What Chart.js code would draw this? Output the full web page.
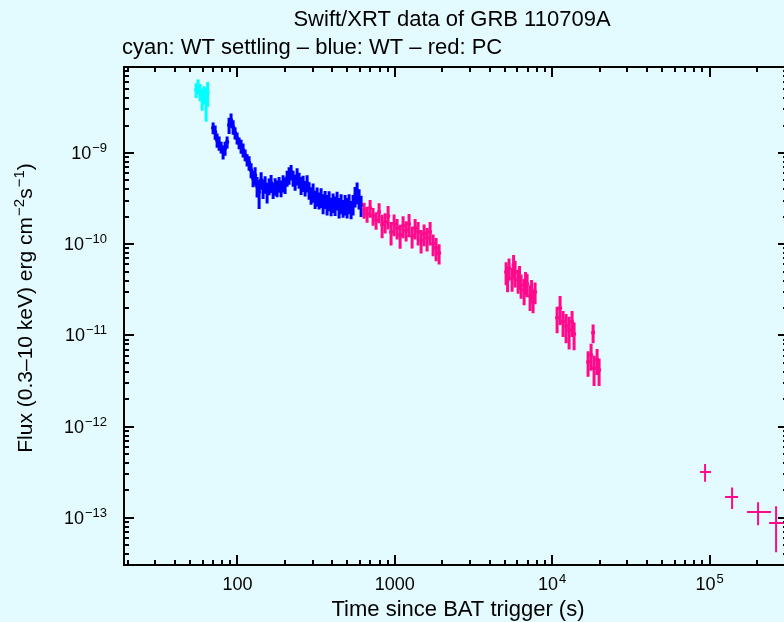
<!DOCTYPE html>
<html>
<head>
<meta charset="utf-8">
<script src="https://cdn.jsdelivr.net/npm/chart.js@4.4.1/dist/chart.umd.min.js"></script>
<style>
  html, body { margin: 0; padding: 0; overflow: hidden; background: #e3fbfe; }
  canvas { display: block; }
</style>
</head>
<body>
<canvas id="lcChart" width="792" height="622"></canvas>
<script>
// cyan: WT settling mode
const settlingTime = [54.6, 56.2, 57.8, 59.6, 61.3, 63.2, 64.6];
const settlingFlux = [4.9e-9, 5.4e-9, 4.7e-9, 4.0e-9, 4.4e-9, 3.7e-9, 4.6e-9];
const settlingErr  = [0.9e-9, 1.0e-9, 1.0e-9, 1.1e-9, 1.0e-9, 1.5e-9, 1.4e-9];

// blue: WT mode
const wtTime = [70.0, 72.1, 74.2, 76.4, 78.7, 81.0, 83.4, 85.9, 88.4, 91.0, 93.8, 96.5, 99.4, 102.4, 105.4,
  108.5, 111.8, 115.1, 118.5, 122.0, 125.6, 129.4, 133.2, 137.2, 141.3, 145.4, 149.8, 154.2, 158.8, 163.5,
  168.4, 173.4, 178.5, 183.8, 189.2, 194.9, 200.7, 206.7, 212.8, 219.1, 225.6, 232.3, 239.2, 246.3, 253.6,
  261.2, 268.9, 276.9, 285.1, 293.6, 302.3, 311.3, 320.5, 330.0, 339.8, 349.9, 360.3, 371.0, 382.0, 393.3,
  405.0, 417.0, 429.4, 442.1, 455.3, 468.8, 482.7, 497.0, 511.8, 527.0, 542.6, 558.7, 575.3, 592.4, 610.0];
const wtFlux = [1.88e-9, 1.70e-9, 1.39e-9, 1.29e-9, 1.16e-9, 1.03e-9, 1.13e-9, 1.32e-9, 2.03e-9, 2.30e-9,
  1.93e-9, 1.66e-9, 1.46e-9, 1.29e-9, 1.19e-9, 1.08e-9, 9.5e-10, 8.4e-10, 7.8e-10, 6.5e-10,
  5.3e-10, 5.7e-10, 4.35e-10, 3.74e-10, 5.06e-10, 4.13e-10, 4.57e-10, 3.74e-10, 4.35e-10, 4.69e-10,
  3.93e-10, 4.35e-10, 4.13e-10, 4.57e-10, 4.13e-10, 4.69e-10, 4.46e-10, 5.32e-10, 5.74e-10, 6.19e-10,
  5.32e-10, 4.81e-10, 5.60e-10, 5.06e-10, 4.46e-10, 4.69e-10, 4.13e-10, 4.69e-10, 3.93e-10, 3.46e-10,
  3.74e-10, 3.13e-10, 3.38e-10, 3.05e-10, 3.30e-10, 2.83e-10, 3.13e-10, 2.76e-10, 3.05e-10, 2.63e-10,
  2.90e-10, 2.69e-10, 3.05e-10, 2.56e-10, 2.83e-10, 2.50e-10, 2.76e-10, 2.56e-10, 2.83e-10, 2.43e-10,
  2.76e-10, 3.38e-10, 3.74e-10, 3.21e-10, 2.69e-10];
const wtErr = [0.28e-9, 0.30e-9, 0.25e-9, 0.23e-9, 0.17e-9, 0.18e-9, 0.20e-9, 0.20e-9, 0.41e-9, 0.41e-9,
  0.35e-9, 0.25e-9, 0.22e-9, 0.19e-9, 0.21e-9, 0.19e-9, 1.4e-10, 1.3e-10, 1.4e-10, 1.2e-10,
  1.1e-10, 1.3e-10, 1.1e-10, 1.3e-10, 1.1e-10, 1.0e-10, 1.0e-10, 0.95e-10, 0.9e-10, 1.05e-10,
  0.8e-10, 0.95e-10, 0.85e-10, 0.9e-10, 0.85e-10, 1.0e-10, 0.9e-10, 1.05e-10, 1.25e-10, 1.2e-10,
  1.05e-10, 0.95e-10, 1.2e-10, 1.0e-10, 1.0e-10, 0.95e-10, 0.8e-10, 1.0e-10, 0.85e-10, 0.75e-10,
  0.9e-10, 0.7e-10, 0.8e-10, 0.65e-10, 0.8e-10, 0.7e-10, 0.7e-10, 0.7e-10, 0.75e-10, 0.6e-10,
  0.7e-10, 0.65e-10, 0.7e-10, 0.65e-10, 0.7e-10, 0.55e-10, 0.7e-10, 0.65e-10, 0.7e-10, 0.55e-10,
  0.7e-10, 0.85e-10, 1.0e-10, 0.8e-10, 0.7e-10];

// red: PC mode (short bins)
const pcTime = [637.6, 666, 696, 727, 760, 794, 830, 867, 906, 946, 989, 1033, 1080, 1128, 1179,
  1231, 1287, 1345, 1405, 1468, 1534, 1603, 1675, 1750, 1828, 1910,
  5092, 5204, 5319, 5559, 5682, 5808, 6069, 6201, 6341, 6626, 6770, 6923, 7233, 7393, 7556, 7783,
  10740, 11220, 11720, 12250, 12800, 13370, 13770,
  16900, 17660, 18190, 18450, 19280, 19850];
const pcFlux = [2.37e-10, 2.15e-10, 2.50e-10, 2.04e-10, 1.84e-10, 2.26e-10, 1.63e-10, 1.75e-10, 2.04e-10,
  1.36e-10, 1.67e-10, 1.51e-10, 1.26e-10, 1.59e-10, 1.43e-10, 1.67e-10, 1.23e-10, 1.51e-10, 1.36e-10,
  1.11e-10, 1.30e-10, 1.17e-10, 1.36e-10, 1.01e-10, 0.91e-10, 0.80e-10,
  4.96e-11, 4.27e-11, 5.49e-11, 4.27e-11, 5.92e-11, 4.96e-11, 4.06e-11, 4.49e-11, 3.58e-11, 3.15e-11,
  3.86e-11, 3.67e-11, 2.71e-11, 3.15e-11, 2.45e-11, 3.00e-11,
  1.56e-11, 2.0e-11, 1.41e-11, 1.27e-11, 1.15e-11, 1.41e-11, 1.04e-11,
  5.12e-12, 6.11e-12, 1.07e-11, 4.40e-12, 5.39e-12, 4.19e-12];
const pcErr = [0.47e-10, 0.43e-10, 0.55e-10, 0.45e-10, 0.40e-10, 0.56e-10, 0.47e-10, 0.44e-10, 0.59e-10,
  0.39e-10, 0.45e-10, 0.38e-10, 0.37e-10, 0.43e-10, 0.36e-10, 0.48e-10, 0.33e-10, 0.38e-10, 0.39e-10,
  0.32e-10, 0.35e-10, 0.34e-10, 0.39e-10, 0.27e-10, 0.26e-10, 0.20e-10,
  1.4e-11, 1.3e-11, 1.5e-11, 1.25e-11, 1.7e-11, 1.6e-11, 1.2e-11, 1.3e-11, 1.05e-11, 1.0e-11,
  1.1e-11, 1.05e-11, 0.85e-11, 0.9e-11, 0.7e-11, 0.8e-11,
  0.5e-11, 0.7e-11, 0.45e-11, 0.45e-11, 0.45e-11, 0.45e-11, 0.35e-11,
  1.6e-12, 2.0e-12, 2.5e-12, 1.6e-12, 1.7e-12, 1.4e-12];

// red: PC mode, late wide bins
const lateTime   = [93600, 139000, 203300, 264600];
const lateTimeLo = [6600, 13500, 30300, 25800];
const lateTimeHi = [8600, 12800, 42500, 37000];
const lateFlux   = [3.19e-13, 1.70e-13, 1.16e-13, 8.8e-14];
const lateErr    = [0.7e-13, 0.45e-13, 0.33e-13, 0.46e-13];

// axis ticks
const xTickValues = [100, 1000, 1e4, 1e5];
const xTickBase   = ['100', '1000', '10', '10'];
const xTickExp    = ['', '', '4', '5'];
const yTickValues = [1e-9, 1e-10, 1e-11, 1e-12, 1e-13];
const yTickExp    = ['\u22129', '\u221210', '\u221211', '\u221212', '\u221213'];

const FONT = '"Liberation Sans", Arial, Helvetica, sans-serif';

function toPoints(t, f, e, lo, hi) {
  return t.map((v, i) => ({ x: v, y: f[i], e: e[i], xl: lo ? lo[i] : null, xh: hi ? hi[i] : null }));
}

// width of "base^exp"
function supWidth(ctx, base, exp, size) {
  ctx.font = size + 'px ' + FONT;
  let w = ctx.measureText(base).width;
  if (exp) {
    ctx.font = Math.round(size * 0.72) + 'px ' + FONT;
    w += ctx.measureText(exp).width + 1;
  }
  return w;
}
// draw "base^exp" left aligned at x
function drawSup(ctx, base, exp, x, y, size) {
  ctx.textAlign = 'left';
  ctx.font = size + 'px ' + FONT;
  ctx.fillText(base, x, y);
  const bw = ctx.measureText(base).width;
  if (exp) {
    ctx.font = Math.round(size * 0.72) + 'px ' + FONT;
    ctx.fillText(exp, x + bw + 1, y - size * 0.4);
  }
}

const errorBars = {
  id: 'errorBars',
  afterDatasetsDraw(chart) {
    const { ctx, chartArea: a, scales: { x, y } } = chart;
    ctx.save();
    ctx.beginPath();
    ctx.rect(a.left, a.top, a.right - a.left, a.bottom - a.top);
    ctx.clip();
    chart.data.datasets.forEach(ds => {
      ctx.strokeStyle = ds.borderColor;
      ctx.lineWidth = ds.borderWidth;
      ctx.lineCap = 'butt';
      ds.data.forEach(p => {
        const px = x.getPixelForValue(p.x);
        const py = y.getPixelForValue(p.y);
        const yTop = y.getPixelForValue(p.y + p.e);
        const yBot = y.getPixelForValue(Math.max(p.y - p.e, p.y * 0.05));
        let xa = px - 2, xb = px + 2;
        if (p.xl !== null) {
          xa = x.getPixelForValue(p.x - p.xl);
          xb = x.getPixelForValue(p.x + p.xh);
        }
        ctx.beginPath();
        ctx.moveTo(px, yTop); ctx.lineTo(px, yBot);
        ctx.moveTo(xa, py); ctx.lineTo(xb, py);
        ctx.stroke();
      });
    });
    ctx.restore();
  }
};

const frameAndText = {
  id: 'frameAndText',
  afterDraw(chart) {
    const { ctx, chartArea: a, scales: { x, y } } = chart;
    ctx.save();
    ctx.strokeStyle = '#000';
    ctx.fillStyle = '#000';
    ctx.lineWidth = 2;
    ctx.strokeRect(a.left, a.top, a.right - a.left, a.bottom - a.top);

    // inward ticks on all four sides
    for (let d = 1; d <= 5; d++) {
      for (let m = 1; m <= 9; m++) {
        const v = m * Math.pow(10, d);
        if (v <= x.min || v >= x.max) continue;
        const len = m === 1 ? 10 : 5;
        const px = Math.round(x.getPixelForValue(v));
        ctx.beginPath();
        ctx.moveTo(px, a.bottom); ctx.lineTo(px, a.bottom - len);
        ctx.moveTo(px, a.top); ctx.lineTo(px, a.top + len);
        ctx.stroke();
      }
    }
    for (let d = -14; d <= -9; d++) {
      for (let m = 1; m <= 9; m++) {
        const v = m * Math.pow(10, d);
        if (v <= y.min || v >= y.max) continue;
        const len = m === 1 ? 10 : 5;
        const py = Math.round(y.getPixelForValue(v));
        ctx.beginPath();
        ctx.moveTo(a.left, py); ctx.lineTo(a.left + len, py);
        ctx.moveTo(a.right, py); ctx.lineTo(a.right - len, py);
        ctx.stroke();
      }
    }

    ctx.textBaseline = 'alphabetic';
    // x tick labels
    xTickValues.forEach((v, i) => {
      const px = x.getPixelForValue(v);
      const w = supWidth(ctx, xTickBase[i], xTickExp[i], 18);
      drawSup(ctx, xTickBase[i], xTickExp[i], px - w / 2, 590, 18);
    });
    // y tick labels
    yTickValues.forEach((v, i) => {
      const py = y.getPixelForValue(v);
      const w = supWidth(ctx, '10', yTickExp[i], 18);
      drawSup(ctx, '10', yTickExp[i], 107 - w, py + 6, 18);
    });

    // titles
    ctx.font = '22px ' + FONT;
    ctx.textAlign = 'center';
    ctx.fillText('Swift/XRT data of GRB 110709A', 452, 26);
    ctx.textAlign = 'left';
    ctx.fillText('cyan: WT settling \u2013 blue: WT \u2013 red: PC', 122, 54);
    ctx.textAlign = 'center';
    ctx.fillText('Time since BAT trigger (s)', 458, 616);

    // y axis title, rotated
    ctx.save();
    ctx.translate(32, 308);
    ctx.rotate(-Math.PI / 2);
    const parts = [['Flux (0.3\u201310 keV) erg cm', '\u22122'], ['s', '\u22121'], [')', '']];
    let total = 0;
    parts.forEach(p => { total += supWidth(ctx, p[0], p[1], 21); });
    let cx = -total / 2;
    parts.forEach(p => {
      drawSup(ctx, p[0], p[1], cx, 0, 21);
      cx += supWidth(ctx, p[0], p[1], 21);
    });
    ctx.restore();
    ctx.restore();
  }
};

const ctx = document.getElementById('lcChart').getContext('2d');
window.lcChart = new Chart(ctx, {
  type: 'scatter',
  data: {
    datasets: [
      { label: 'WT settling', data: toPoints(settlingTime, settlingFlux, settlingErr), borderColor: '#00ffff', borderWidth: 3, pointRadius: 0 },
      { label: 'WT', data: toPoints(wtTime, wtFlux, wtErr), borderColor: '#0000ff', borderWidth: 3, pointRadius: 0 },
      { label: 'PC', data: toPoints(pcTime, pcFlux, pcErr), borderColor: '#ff0a8c', borderWidth: 3, pointRadius: 0 },
      { label: 'PC late', data: toPoints(lateTime, lateFlux, lateErr, lateTimeLo, lateTimeHi), borderColor: '#ff0a8c', borderWidth: 2, pointRadius: 0 }
    ]
  },
  options: {
    responsive: false,
    animation: false,
    devicePixelRatio: 1,
    layout: { padding: { top: 67, right: 4, left: 0, bottom: 0 } },
    plugins: { legend: { display: false }, tooltip: { enabled: false }, title: { display: false } },
    scales: {
      x: {
        type: 'logarithmic', min: 19, max: 3.15e5,
        ticks: { display: false }, grid: { display: false }, border: { display: false },
        afterFit(scale) { scale.height = 57; }
      },
      y: {
        type: 'logarithmic', min: 3.05e-14, max: 8.76e-9,
        ticks: { display: false }, grid: { display: false }, border: { display: false },
        afterFit(scale) { scale.width = 124; }
      }
    }
  },
  plugins: [errorBars, frameAndText]
});
</script>
</body>
</html>
